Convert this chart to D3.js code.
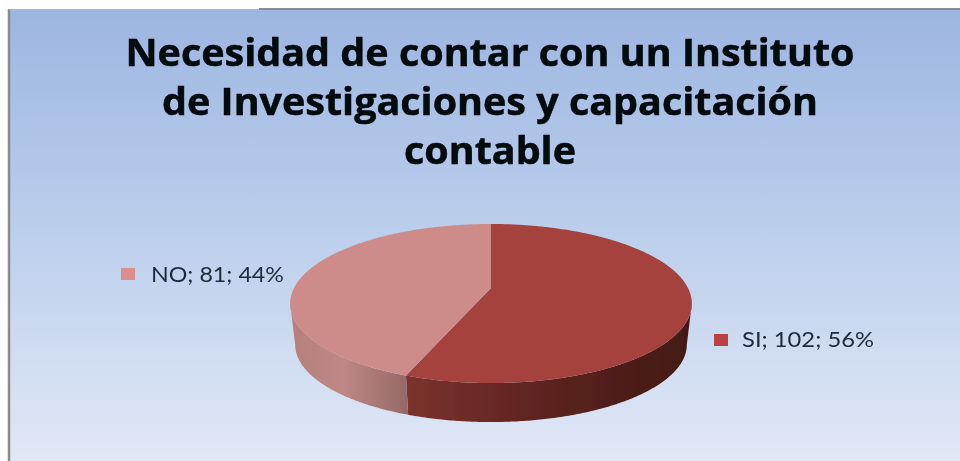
<!DOCTYPE html>
<html>
<head>
<meta charset="utf-8">
<script src="https://cdn.jsdelivr.net/npm/d3@7"></script>
<style>
  html, body { margin: 0; padding: 0; background: #fff; }
  svg { display: block; }
  text { font-variant-ligatures: none; }
</style>
</head>
<body>
<div id="chart"></div>
<script>
// DATA
const categories = ['SI', 'NO'];
const counts = [102, 81];
const percents = [56, 44];
const titleLines = [
  'Necesidad de contar con un Instituto',
  'de Investigaciones y capacitación',
  'contable'
];

const width = 960, height = 461;

const svg = d3.select('#chart').append('svg')
  .attr('width', width)
  .attr('height', height);

const defs = svg.append('defs');

function addGradient(id, x2, y2, stops) {
  const g = defs.append('linearGradient').attr('id', id)
    .attr('x1', 0).attr('y1', 0).attr('x2', x2).attr('y2', y2);
  stops.forEach(s => g.append('stop').attr('offset', s[0]).attr('stop-color', s[1]));
}

addGradient('panel', 0, 1, [[0, '#9db6e1'], [0.5, '#bccfec'], [1, '#e1e8f6']]);
addGradient('wall-SI', 1, 0, [[0, '#7b322d'], [0.5, '#5c231f'], [1, '#421914']]);
addGradient('wall-NO', 1, 0, [[0, '#b67f7c'], [0.45, '#bd8885'], [1, '#966868']]);

defs.append('filter').attr('id', 'soft')
  .append('feGaussianBlur').attr('stdDeviation', 0.45);

// panel and its grey frame
svg.append('rect')
  .attr('x', 9).attr('y', 10).attr('width', width - 9).attr('height', height - 10)
  .attr('fill', 'url(#panel)');
svg.append('line')
  .attr('x1', 9).attr('x2', 9).attr('y1', 9).attr('y2', height)
  .attr('stroke', '#8b8b8d').attr('stroke-width', 2.5);
svg.append('line')
  .attr('x1', 9).attr('x2', 259).attr('y1', 9.5).attr('y2', 9.5)
  .attr('stroke', '#b4b6ba').attr('stroke-width', 1);
svg.append('line')
  .attr('x1', 259).attr('x2', width).attr('y1', 9).attr('y2', 9)
  .attr('stroke', '#8b8b8d').attr('stroke-width', 2);

// title
const titleWidths = [729, 656, 172];
svg.append('g').attr('filter', 'url(#soft)')
  .selectAll('text').data(titleLines).join('text')
  .attr('x', 490)
  .attr('y', (d, i) => [66, 115, 164][i])
  .attr('text-anchor', 'middle')
  .attr('font-family', '"Open Sans", Lato, sans-serif')
  .attr('font-weight', 700)
  .attr('font-size', 37)
  .attr('fill', '#05070c')
  .attr('stroke', '#05070c')
  .attr('stroke-width', 0.5)
  .attr('textLength', (d, i) => titleWidths[i])
  .attr('lengthAdjust', 'spacingAndGlyphs')
  .text(d => d);

// pie, tilted with a perspective so the apex sits above the ellipse centre
const slices = d3.pie().sort(null)(counts);
const colors = { SI: '#a5423e', NO: '#cd8c8a' };

const cx = 491, apexY = 288, rimB = 197, rimA = 76.5, persp = -0.195;
const rimScale = 0.975, baseApexY = 329.4;

// the rim turns back behind the top face at these angles
const frontStart = Math.acos(persp), frontEnd = 2 * Math.PI - frontStart;

function rimPoint(angle, base) {
  const u = Math.sin(angle), v = -Math.cos(angle);
  const w = 1 + persp * v;
  const s = base ? rimScale : 1;
  return [cx + s * rimB * u / w, (base ? baseApexY : apexY) + s * rimA * v / w];
}

function rimSamples(a0, a1, base) {
  const n = Math.ceil((a1 - a0) / 0.01);
  return d3.range(n + 1).map(i => rimPoint(a0 + (a1 - a0) * i / n, base));
}

const line = d3.line();
const pieG = svg.append('g').attr('filter', 'url(#soft)');

// side walls first, only the front part of each slice shows
pieG.selectAll('path.wall').data(slices).join('path')
  .attr('class', 'wall')
  .attr('fill', (d, i) => `url(#wall-${categories[i]})`)
  .attr('d', d => {
    const a0 = Math.max(d.startAngle, frontStart), a1 = Math.min(d.endAngle, frontEnd);
    return line(rimSamples(a0, a1, false).concat(rimSamples(a0, a1, true).reverse())) + 'Z';
  });

pieG.selectAll('path.top').data(slices).join('path')
  .attr('class', 'top')
  .attr('fill', (d, i) => colors[categories[i]])
  .attr('d', d => line(
    [[cx, apexY]].concat(rimSamples(d.startAngle, d.endAngle, false))) + 'Z');

// labels with their small keys
const labelPos = { SI: [714, 334, 742, 347], NO: [121, 268, 151, 282] };
const keyColors = { SI: '#b8423f', NO: '#dc8e8c' };
const labels = svg.append('g').attr('filter', 'url(#soft)')
  .selectAll('g').data(categories).join('g');
labels.append('rect')
  .attr('x', d => labelPos[d][0]).attr('y', d => labelPos[d][1])
  .attr('width', 14).attr('height', 12)
  .attr('fill', d => keyColors[d]);
labels.append('text')
  .attr('x', d => labelPos[d][2]).attr('y', d => labelPos[d][3])
  .attr('font-family', 'Lato, "Open Sans", sans-serif')
  .attr('font-size', 22)
  .attr('fill', '#1f2a3a')
  .attr('textLength', (d, i) => i === 0 ? 132 : 133)
  .attr('lengthAdjust', 'spacingAndGlyphs')
  .text((d, i) => `${d}; ${counts[i]}; ${percents[i]}%`);
</script>
</body>
</html>
